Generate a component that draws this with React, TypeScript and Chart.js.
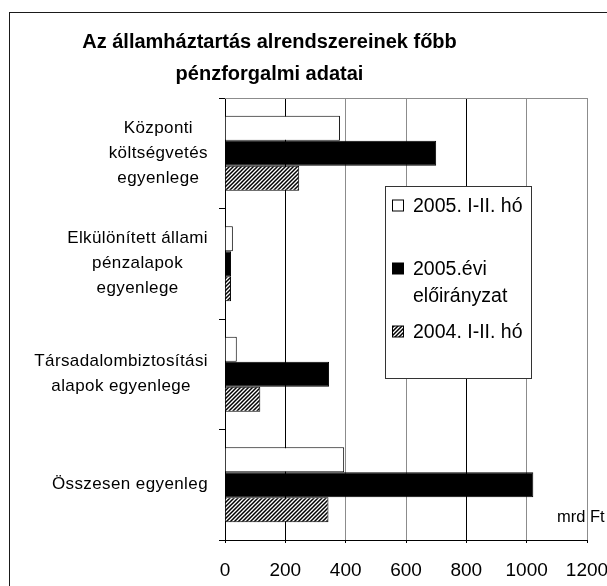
import React, { useEffect, useRef } from 'react';
import { Chart, registerables } from 'chart.js';

Chart.register(...registerables);

const FONT = '"Liberation Sans", Arial, Helvetica, sans-serif';

const titleLines = ['Az államháztartás alrendszereinek főbb', 'pénzforgalmi adatai'];

const categoryLines: string[][] = [
  ['Központi', 'költségvetés', 'egyenlege'],
  ['Elkülönített állami', 'pénzalapok', 'egyenlege'],
  ['Társadalombiztosítási', 'alapok egyenlege'],
  ['Összesen egyenleg'],
];

const seriesLegendLines: string[][] = [
  ['2005. I-II. hó'],
  ['2005.évi', 'előirányzat'],
  ['2004. I-II. hó'],
];

const actual2005 = [381, 26, 39, 395];
const plan2005 = [700, 20, 345, 1022];
const actual2004 = [246, 20, 117, 343];

const xTickValues = [0, 200, 400, 600, 800, 1000, 1200];
const unitLabel = 'mrd Ft';

function makeHatch(): CanvasPattern | string {
  const c = document.createElement('canvas');
  c.width = 4;
  c.height = 4;
  const g = c.getContext('2d');
  if (!g) return '#888';
  g.fillStyle = '#fff';
  g.fillRect(0, 0, 4, 4);
  g.strokeStyle = '#000';
  g.lineWidth = 1.5;
  g.beginPath();
  g.moveTo(-1, 1);
  g.lineTo(1, -1);
  g.moveTo(0, 4);
  g.lineTo(4, 0);
  g.moveTo(3, 5);
  g.lineTo(5, 3);
  g.stroke();
  const p = g.createPattern(c, 'repeat');
  return p || '#888';
}

export default function App() {
  const ref = useRef<HTMLCanvasElement | null>(null);

  useEffect(() => {
    const canvas = ref.current;
    if (!canvas) return;
    const hatch = makeHatch();
    const fills: any[] = ['#ffffff', '#000000', hatch];

    const decor = {
      id: 'decor',
      afterDraw(chart: any) {
        const ctx = chart.ctx as CanvasRenderingContext2D;
        const area = chart.chartArea;
        const yScale = chart.scales.y;
        ctx.save();
        (ctx as any).letterSpacing = '0px';

        // outer frame
        ctx.strokeStyle = '#1a1a1a';
        ctx.lineWidth = 1;
        ctx.strokeRect(9.5, 12.5, 700, 700);

        // plot top border
        ctx.strokeStyle = '#8c8c8c';
        ctx.beginPath();
        ctx.moveTo(area.left, Math.round(area.top) + 0.5);
        ctx.lineTo(area.right, Math.round(area.top) + 0.5);
        ctx.stroke();

        // title
        ctx.fillStyle = '#000';
        ctx.font = `bold 20px ${FONT}`;
        ctx.textAlign = 'center';
        ctx.textBaseline = 'alphabetic';
        titleLines.forEach((t, i) => ctx.fillText(t, 269.5, 48 + i * 32));

        // category labels
        ctx.font = `17px ${FONT}`;
        (ctx as any).letterSpacing = '0.4px';
        ctx.textBaseline = 'middle';
        ctx.textAlign = 'center';
        categoryLines.forEach((lines, i) => {
          const y = yScale.getPixelForValue(i);
          const maxW = Math.max(...lines.map((l) => ctx.measureText(l).width));
          const cx = 208 - maxW / 2;
          const n = lines.length;
          lines.forEach((l, j) => {
            ctx.fillText(l, cx, y + (j - (n - 1) / 2) * 25);
          });
        });
        (ctx as any).letterSpacing = '0px';

        // unit label
        ctx.font = `16.5px ${FONT}`;
        ctx.textAlign = 'left';
        ctx.textBaseline = 'alphabetic';
        ctx.fillText(unitLabel, 557, 521.5);

        // legend
        const lx = 385.5;
        const ly = 186.5;
        ctx.fillStyle = '#fff';
        ctx.fillRect(lx, ly, 146, 192);
        ctx.strokeStyle = '#333';
        ctx.strokeRect(lx, ly, 146, 192);
        const baselines = [25, 88, 151];
        ctx.font = `19.5px ${FONT}`;
        seriesLegendLines.forEach((lines, i) => {
          const b = ly + baselines[i];
          ctx.fillStyle = fills[i];
          ctx.fillRect(lx + 7, b - 11.5, 11, 11);
          ctx.strokeStyle = '#000';
          ctx.strokeRect(lx + 7, b - 11.5, 11, 11);
          ctx.fillStyle = '#000';
          lines.forEach((l, j) => ctx.fillText(l, lx + 27.5, b + j * 27.5));
        });

        ctx.restore();
      },
    };

    const common = { borderColor: '#000', borderWidth: 1, categoryPercentage: 0.68, barPercentage: 1 };

    const chart = new Chart(canvas, {
      type: 'bar',
      data: {
        labels: categoryLines.map((l) => l.join(' ')),
        datasets: [
          { label: seriesLegendLines[0].join(' '), data: actual2005, backgroundColor: fills[0], ...common },
          { label: seriesLegendLines[1].join(' '), data: plan2005, backgroundColor: fills[1], ...common },
          { label: seriesLegendLines[2].join(' '), data: actual2004, backgroundColor: fills[2], ...common },
        ],
      },
      options: {
        animation: false,
        responsive: false,
        indexAxis: 'y',
        layout: { padding: { top: 98, right: 20, left: 0, bottom: 0 } },
        plugins: {
          legend: { display: false },
          title: { display: false },
          tooltip: { enabled: false },
        },
        scales: {
          x: {
            type: 'linear',
            min: xTickValues[0],
            max: xTickValues[xTickValues.length - 1],
            afterBuildTicks: (scale: any) => {
              scale.ticks = xTickValues.map((v) => ({ value: v }));
            },
            ticks: {
              color: '#000',
              font: { family: FONT, size: 19 },
              padding: 16,
              maxRotation: 0,
              autoSkip: false,
              callback: (v: any) => String(v),
            },
            grid: {
              color: (c: any) => {
                const v = c.tick ? c.tick.value : 0;
                return v === 0 || v === 200 || v === 800 ? '#000' : '#8c8c8c';
              },
              lineWidth: 1,
              tickLength: 3,
              tickColor: '#000',
            },
            border: { color: '#000', width: 1 },
            afterFit: (s: any) => {
              s.height = 46;
              s.paddingLeft = 0;
              s.paddingRight = 0;
            },
          },
          y: {
            type: 'category',
            ticks: { display: false },
            grid: {
              drawOnChartArea: false,
              drawTicks: true,
              tickLength: 6,
              offset: true,
              tickColor: '#000',
            },
            border: { color: '#000', width: 1 },
            afterFit: (s: any) => {
              s.width = 225;
              s.paddingTop = 0;
              s.paddingBottom = 0;
            },
          },
        },
      } as any,
      plugins: [decor],
    });

    return () => chart.destroy();
  }, []);

  return (
    <div
      style={{
        position: 'fixed',
        left: 0,
        top: 0,
        width: 607,
        height: 586,
        overflow: 'hidden',
        background: '#fff',
      }}
    >
      <canvas ref={ref} width={607} height={586} style={{ display: 'block', width: 607, height: 586 }} />
    </div>
  );
}
